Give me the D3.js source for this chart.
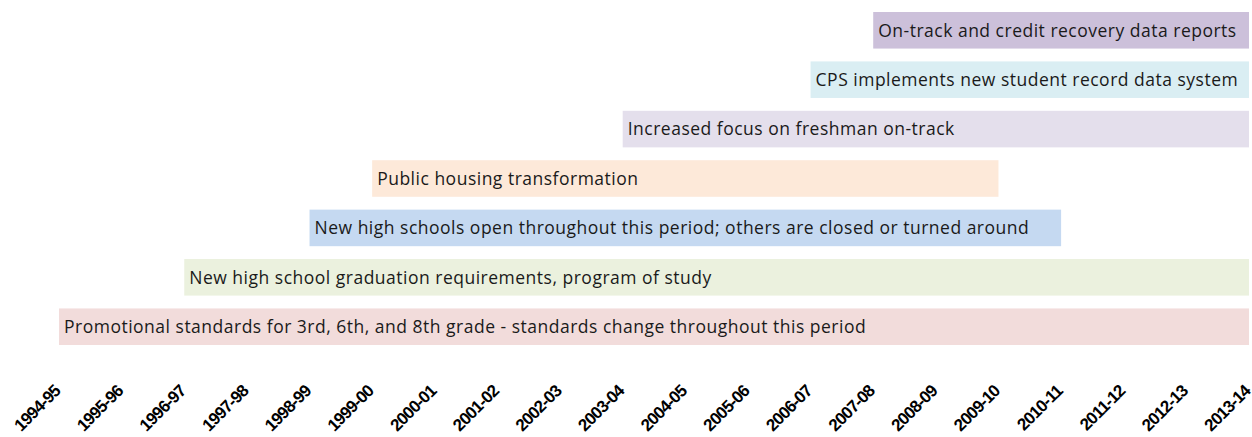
<!DOCTYPE html>
<html>
<head>
<meta charset="utf-8">
<script src="https://cdn.jsdelivr.net/npm/d3@7"></script>
<style>
  body { margin: 0; background: #fff; }
  .event-label { font-family: "Open Sans", sans-serif; font-size: 17.5px; letter-spacing: 0.5px; fill: #1a1a1a; }
  .year-label { font-family: "Liberation Sans", sans-serif; font-weight: bold; font-size: 17px; letter-spacing: -0.8px; fill: #000; }
</style>
</head>
<body>
<div id="chart-area"><svg></svg></div>
<script>
const chartSize = { width: 1252, height: 437 };
const margin = { left: 59, right: 3, top: 12, bottom: 92 };

const years = [
  "1994-95", "1995-96", "1996-97", "1997-98", "1998-99", "1999-00", "2000-01",
  "2001-02", "2002-03", "2003-04", "2004-05", "2005-06", "2006-07", "2007-08",
  "2008-09", "2009-10", "2010-11", "2011-12", "2012-13", "2013-14"
];

// top row first
const events = [
  "On-track and credit recovery data reports",
  "CPS implements new student record data system",
  "Increased focus on freshman on-track",
  "Public housing transformation",
  "New high schools open throughout this period; others are closed or turned around",
  "New high school graduation requirements, program of study",
  "Promotional standards for 3rd, 6th, and 8th grade - standards change throughout this period"
];
const startYears = ["2007-08", "2006-07", "2003-04", "1999-00", "1998-99", "1996-97", "1994-95"];
const endYears = ["2013-14", "2013-14", "2013-14", "2009-10", "2010-11", "2013-14", "2013-14"];
const colors = ["#ccc0da", "#daeef3", "#e4dfec", "#fde9d9", "#c5d9f1", "#ebf1de", "#f2dcdb"];

const rows = events.map((name, i) => ({
  name,
  start: startYears[i],
  end: endYears[i],
  color: colors[i]
}));

const main = () => {
  const svg = d3
    .select("#chart-area svg")
    .attr("width", chartSize.width)
    .attr("height", chartSize.height);

  const x = d3
    .scalePoint()
    .domain(years)
    .range([margin.left, chartSize.width - margin.right]);

  const y = d3
    .scaleBand()
    .domain(events)
    .range([margin.top, chartSize.height - margin.bottom])
    .paddingInner(0.26)
    .paddingOuter(0);

  const bars = svg
    .append("g")
    .attr("class", "bars")
    .selectAll("g")
    .data(rows)
    .join("g");

  bars
    .append("rect")
    .attr("x", d => x(d.start))
    .attr("y", d => y(d.name))
    .attr("width", d => x(d.end) - x(d.start))
    .attr("height", y.bandwidth())
    .attr("fill", d => d.color);

  bars
    .append("text")
    .attr("class", "event-label")
    .attr("x", d => x(d.start) + 5)
    .attr("y", d => y(d.name) + y.bandwidth() / 2)
    .attr("dy", "0.36em")
    .text(d => d.name);

  const axisY = chartSize.height - margin.bottom + 47;
  const xAxis = svg
    .append("g")
    .attr("class", "x-axis")
    .attr("transform", `translate(0,${axisY})`)
    .call(d3.axisBottom(x).tickSize(0).tickPadding(0));

  xAxis.select(".domain").remove();
  xAxis
    .selectAll("text")
    .attr("class", "year-label")
    .attr("font-family", null)
    .attr("font-size", null)
    .attr("text-anchor", "end")
    .attr("dy", 0)
    .attr("transform", "translate(2,0) rotate(-45)");
};

window.onload = main;
</script>
</body>
</html>
